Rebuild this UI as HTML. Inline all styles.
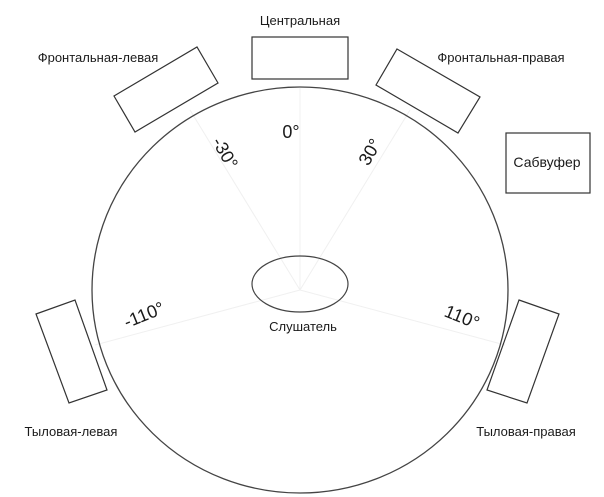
<!DOCTYPE html>
<html><head><meta charset="utf-8"><style>
html,body{margin:0;padding:0;background:#fff;}
svg{display:block;}
text{font-family:"Liberation Sans","DejaVu Sans",sans-serif;fill:#1a1a1a;}
</style></head><body>
<svg width="604" height="497" viewBox="0 0 604 497" xmlns="http://www.w3.org/2000/svg">
<g stroke="#f0f0f0" stroke-width="1" fill="none">
<line x1="300" y1="290" x2="300" y2="88"/>
<line x1="300" y1="290" x2="190" y2="110"/>
<line x1="300" y1="290" x2="410" y2="110"/>
<line x1="300" y1="290" x2="95" y2="345"/>
<line x1="300" y1="290" x2="505" y2="345"/>
</g>
<ellipse cx="300" cy="290" rx="208" ry="203" fill="none" stroke="#444" stroke-width="1.3"/>
<ellipse cx="300" cy="284" rx="48" ry="28" fill="none" stroke="#444" stroke-width="1.2"/>
<g fill="none" stroke="#333" stroke-width="1.2">
<rect x="252" y="37" width="96" height="42"/>
<polygon points="114,96 197,47 218,83 135,132"/>
<polygon points="397,49 480,97 458,133 376,85"/>
<rect x="506" y="133" width="84" height="60"/>
<polygon points="36,314 75,300 107,390 69,403"/>
<polygon points="519,300 559,314 527,403 487,390"/>
</g>
<g font-size="13">
<text x="300" y="25" text-anchor="middle">Центральная</text>
<text x="98" y="62" text-anchor="middle">Фронтальная-левая</text>
<text x="501" y="62" text-anchor="middle">Фронтальная-правая</text>
<text x="547" y="167" text-anchor="middle" font-size="14">Сабвуфер</text>
<text x="303" y="331" text-anchor="middle">Слушатель</text>
<text x="71" y="436" text-anchor="middle">Тыловая-левая</text>
<text x="526" y="436" text-anchor="middle">Тыловая-правая</text>
</g>
<g font-size="18">
<text x="291" y="138" text-anchor="middle">0°</text>
<text transform="translate(225,153) rotate(60)" text-anchor="middle" dy="6">-30°</text>
<text transform="translate(370,152) rotate(-60)" text-anchor="middle" dy="6">30°</text>
<text transform="translate(144,315) rotate(-22)" text-anchor="middle" dy="6">-110°</text>
<text transform="translate(462,317) rotate(22)" text-anchor="middle" dy="6">110°</text>
</g>
</svg>
</body></html>
